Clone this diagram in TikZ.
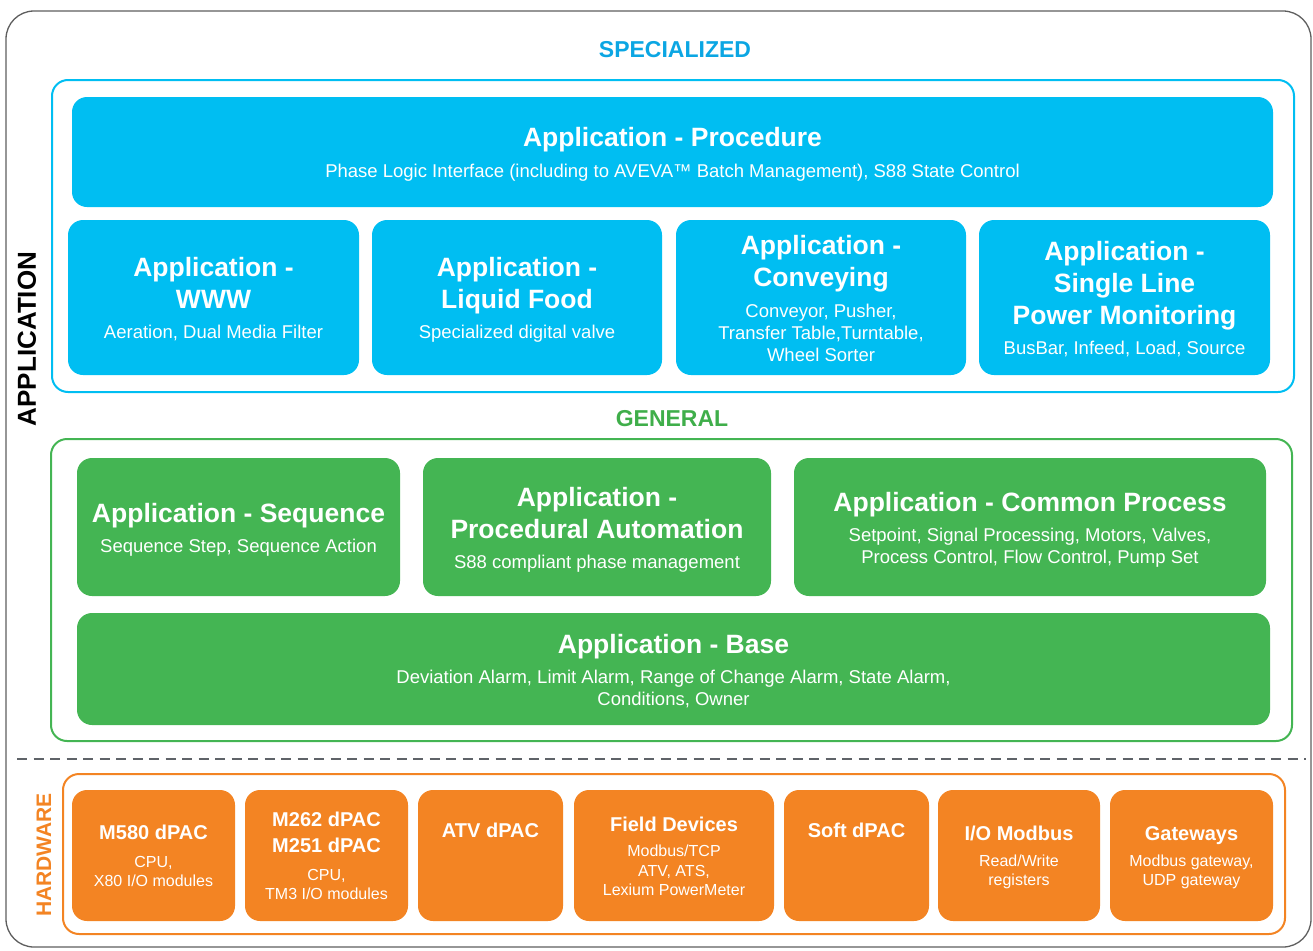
\documentclass[tikz,border=0pt]{standalone}
\usepackage{fontspec}
\setmainfont{Liberation Sans}
\definecolor{sblue}{HTML}{00BEF2}
\definecolor{sbluetxt}{HTML}{0BA6E3}
\definecolor{sgreen}{HTML}{44B553}
\definecolor{sgreentxt}{HTML}{3FAE4A}
\definecolor{sorange}{HTML}{F38423}
\definecolor{frmgray}{HTML}{5E5E5E}
\definecolor{dashgray}{HTML}{5F6368}
\newcounter{tlc}
\newcommand\mybox[6]{\node[#1,minimum width={#5pt-#3pt},minimum height={#6pt-#4pt}] (#2) at ({(#3+#5)/2},{(#4+#6)/2}) {};}
\newcommand\txtline[4]{\stepcounter{tlc}\node[#1,anchor=base] (tl\arabic{tlc}) at (#2,#3) {#4};}
\tikzset{
  base/.style={inner sep=0pt,outer sep=0pt},
  outerframe/.style={base,draw=frmgray,line width=1.3pt,rounded corners=28pt},
  frameB/.style={base,draw=sblue,line width=2pt,rounded corners=16pt},
  frameG/.style={base,draw=sgreen,line width=2pt,rounded corners=16pt},
  frameO/.style={base,draw=sorange,line width=2pt,rounded corners=16pt},
  boxB/.style={base,fill=sblue,rounded corners=15pt},
  boxG/.style={base,fill=sgreen,rounded corners=15pt},
  boxO/.style={base,fill=sorange,rounded corners=15pt},
  tt/.style={base,text=white,font=\fontsize{26.5}{26.5}\selectfont\bfseries},
  st/.style={base,text=white,font=\fontsize{18.5}{18.5}\selectfont},
  ht/.style={base,text=white,font=\fontsize{20}{20}\selectfont\bfseries},
  hs/.style={base,text=white,font=\fontsize{16}{16}\selectfont},
  sectB/.style={base,text=sbluetxt,font=\fontsize{23}{23}\selectfont\bfseries},
  sectG/.style={base,text=sgreentxt,font=\fontsize{23}{23}\selectfont\bfseries},
}
\begin{document}
\begin{tikzpicture}[x=1pt,y=-1pt]
\useasboundingbox (0,0) rectangle (1313,950);
% frames
\mybox{outerframe}{outer}{6}{11}{1311}{947}
\mybox{frameB}{specframe}{52}{80}{1294}{392}
\mybox{frameG}{genframe}{51}{439}{1292}{741}
\mybox{frameO}{hwframe}{63}{774}{1285}{934}
% dashed separator
\coordinate (dl1) at (17,759);
\coordinate (dl2) at (1306,759);
\draw[dashgray,line width=2.5pt,dash pattern=on 10pt off 6.5pt] (dl1) -- (dl2);
% section labels
\txtline{sectB}{675}{58}{SPECIALIZED}
\txtline{sectG}{672}{426}{GENERAL}
\node[base,rotate=90,font=\fontsize{26}{26}\selectfont\bfseries,text=black] (applbl) at (27,339) {APPLICATION};
\node[base,rotate=90,font=\fontsize{21}{21}\selectfont\bfseries,text=sorange] (hwlbl) at (44,855) {HARDWARE};
% blue boxes
\mybox{boxB}{proc}{72}{97}{1273}{207}
\mybox{boxB}{www}{68}{220}{359}{375}
\mybox{boxB}{liq}{372}{220}{662}{375}
\mybox{boxB}{conv}{676}{220}{966}{375}
\mybox{boxB}{slpm}{979}{220}{1270}{375}
\txtline{tt}{672.5}{146}{Application - Procedure}
\txtline{st}{672.5}{177}{Phase Logic Interface (including to AVEVA™ Batch Management), S88 State Control}
\txtline{tt}{213.5}{276}{Application -}
\txtline{tt}{213.5}{308}{WWW}
\txtline{st}{213.5}{338}{Aeration, Dual Media Filter}
\txtline{tt}{517}{276}{Application -}
\txtline{tt}{517}{308}{Liquid Food}
\txtline{st}{517}{338}{Specialized digital valve}
\txtline{tt}{821}{254}{Application -}
\txtline{tt}{821}{286}{Conveying}
\txtline{st}{821}{317}{Conveyor, Pusher,}
\txtline{st}{821}{339}{Transfer Table,Turntable,}
\txtline{st}{821}{361}{Wheel Sorter}
\txtline{tt}{1124.5}{260}{Application -}
\txtline{tt}{1124.5}{292}{Single Line}
\txtline{tt}{1124.5}{324}{Power Monitoring}
\txtline{st}{1124.5}{354}{BusBar, Infeed, Load, Source}
% green boxes
\mybox{boxG}{seq}{77}{458}{400}{596}
\mybox{boxG}{pa}{423}{458}{771}{596}
\mybox{boxG}{cp}{794}{458}{1266}{596}
\mybox{boxG}{abase}{77}{613}{1270}{725}
\txtline{tt}{238.5}{522}{Application - Sequence}
\txtline{st}{238.5}{552}{Sequence Step, Sequence Action}
\txtline{tt}{597}{506}{Application -}
\txtline{tt}{597}{538}{Procedural Automation}
\txtline{st}{597}{568}{S88 compliant phase management}
\txtline{tt}{1030}{511}{Application - Common Process}
\txtline{st}{1030}{541}{Setpoint, Signal Processing, Motors, Valves,}
\txtline{st}{1030}{563}{Process Control, Flow Control, Pump Set}
\txtline{tt}{673.5}{653}{Application - Base}
\txtline{st}{673.5}{683}{Deviation Alarm, Limit Alarm, Range of Change Alarm, State Alarm,}
\txtline{st}{673.5}{705}{Conditions, Owner}
% orange boxes
\mybox{boxO}{m580}{72}{790}{235}{921}
\mybox{boxO}{m262}{245}{790}{408}{921}
\mybox{boxO}{atv}{418}{790}{563}{921}
\mybox{boxO}{fd}{574}{790}{774}{921}
\mybox{boxO}{soft}{784}{790}{929}{921}
\mybox{boxO}{iomb}{938}{790}{1100}{921}
\mybox{boxO}{gw}{1110}{790}{1273}{921}
\txtline{ht}{153.5}{839}{M580 dPAC}
\txtline{hs}{153.5}{867}{CPU,}
\txtline{hs}{153.5}{886}{X80 I/O modules}
\txtline{ht}{326.5}{826}{M262 dPAC}
\txtline{ht}{326.5}{852}{M251 dPAC}
\txtline{hs}{326.5}{880}{CPU,}
\txtline{hs}{326.5}{899}{TM3 I/O modules}
\txtline{ht}{490.5}{837}{ATV dPAC}
\txtline{ht}{674}{831}{Field Devices}
\txtline{hs}{674}{856}{Modbus/TCP}
\txtline{hs}{674}{876}{ATV, ATS,}
\txtline{hs}{674}{895}{Lexium PowerMeter}
\txtline{ht}{856.5}{837}{Soft dPAC}
\txtline{ht}{1019}{840}{I/O Modbus}
\txtline{hs}{1019}{866}{Read/Write}
\txtline{hs}{1019}{885}{registers}
\txtline{ht}{1191.5}{840}{Gateways}
\txtline{hs}{1191.5}{866}{Modbus gateway,}
\txtline{hs}{1191.5}{885}{UDP gateway}
\end{tikzpicture}
\end{document}
